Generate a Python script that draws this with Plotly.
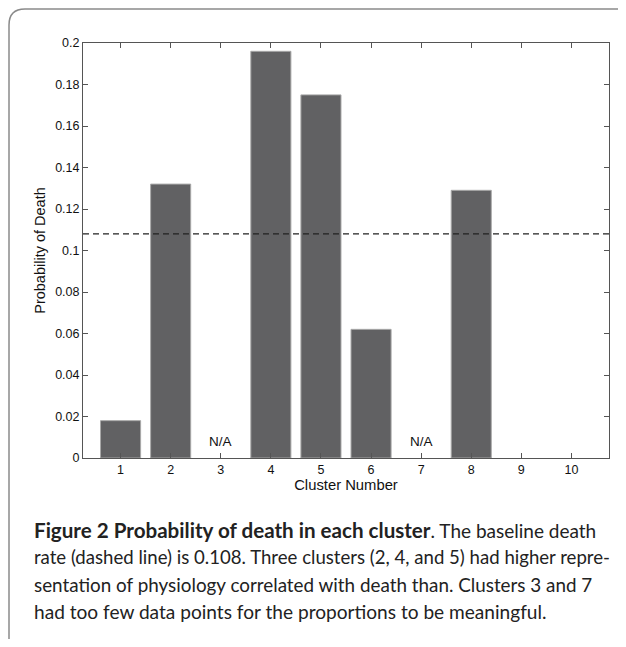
import plotly.graph_objects as go

clusters = [1, 2, 3, 4, 5, 6, 7, 8, 9, 10]
prob_death = [0.018, 0.132, None, 0.196, 0.175, 0.062, None, 0.129, 0, 0]
na_clusters = [3, 7]
baseline = 0.108
y_ticks = [0, 0.02, 0.04, 0.06, 0.08, 0.1, 0.12, 0.14, 0.16, 0.18, 0.2]
y_ticklabels = ["0", "0.02", "0.04", "0.06", "0.08", "0.1", "0.12", "0.14", "0.16", "0.18", "0.2"]

# page body has an 8px default margin; work in reference pixels, shift by OFF
OFF = 8
W, H = 626 - 2 * OFF, 647 - 2 * OFF
L, R, T, B = 83 - OFF, 609 - OFF, 43 - OFF, 458 - OFF

def px(x):
    return (x - OFF - L) / (R - L)

def py(y):
    return (B - (y - OFF)) / (B - T)

fig = go.Figure()
fig.add_trace(go.Bar(
    x=clusters, y=prob_death, width=0.8,
    marker=dict(color="#616163",
                line=dict(color="#a8a8a8", width=[1 if v else 0 for v in prob_death])),
    showlegend=False,
))
fig.add_trace(go.Scatter(
    x=[0.25, 10.75], y=[baseline, baseline], mode="lines",
    line=dict(color="#222222", width=1.3, dash="6px,4px"),
    showlegend=False, cliponaxis=True,
))

for c in na_clusters:
    fig.add_annotation(x=c, y=0.0078, text="N/A", showarrow=False,
                       font=dict(family="Liberation Sans, Arial", size=13.5, color="#111"))

axis_common = dict(showline=True, linecolor="#555555", linewidth=1, mirror="ticks",
                   ticks="inside", ticklen=5, tickcolor="#555555", showgrid=False,
                   zeroline=False, tickfont=dict(family="Liberation Sans, Arial", size=12.5, color="#111"))

fig.update_xaxes(range=[0.25, 10.75], tickvals=clusters, ticktext=[str(c) for c in clusters],
                 title=dict(text="Cluster Number", font=dict(family="Liberation Sans, Arial", size=14.8, color="#111"), standoff=1),
                 **axis_common)
fig.update_yaxes(range=[0, 0.2], tickvals=y_ticks, ticktext=y_ticklabels,
                 title=dict(text="Probability of Death", font=dict(family="Liberation Sans, Arial", size=14.5, color="#111"), standoff=6),
                 **axis_common)

# Frame with rounded top-left corner
x0, y0 = px(9), py(9)
x1, y1 = px(660), py(680)
rx = px(9 + 16) - px(9)
ry = py(9) - py(9 + 16)
path = (f"M {x1},{y0} L {x0 + rx},{y0} Q {x0},{y0} {x0},{y0 - ry} L {x0},{y1}")
fig.add_shape(type="path", path=path, xref="paper", yref="paper",
              line=dict(color="#8a8a8a", width=1.5), layer="below")

caption_lines = [
    "<b><span style='font-size:20.6px'>Figure 2 Probability of death in each cluster</span></b>. The baseline death",
    "rate (dashed line) is 0.108. Three clusters (2, 4, and 5) had higher repre-",
    "sentation of physiology correlated with death than. Clusters 3 and 7",
    "had too few data points for the proportions to be meaningful.",
]
caption_sizes = [19, 18.6, 18.85, 19.1]
for i, line in enumerate(caption_lines):
    fig.add_annotation(xref="paper", yref="paper", x=px(32), y=py(530 + 27 * i),
                       xanchor="left", yanchor="middle", text=line, showarrow=False,
                       font=dict(family="Lato, Open Sans", size=caption_sizes[i], color="#222"))

fig.update_layout(
    width=W, height=H,
    margin=dict(l=L, r=W - R, t=T, b=H - B),
    plot_bgcolor="white", paper_bgcolor="white",
    bargap=0.2,
)

fig.write_html("out.html")
